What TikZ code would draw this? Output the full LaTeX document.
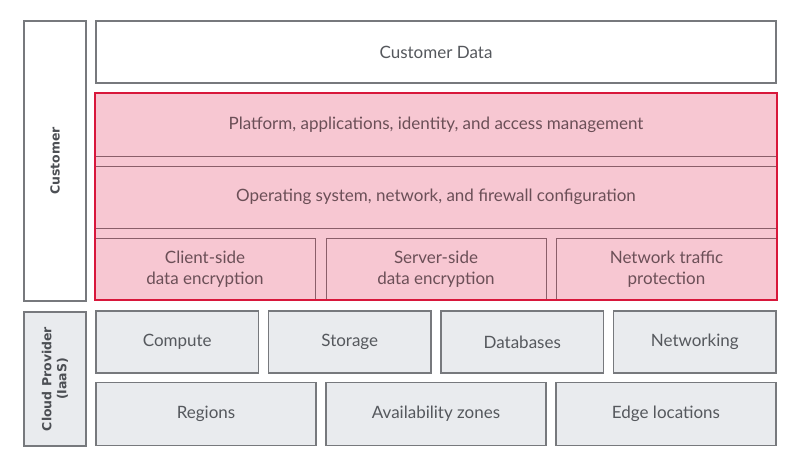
\documentclass[tikz,border=0pt]{standalone}
\usepackage{fontspec}
\setmainfont{Lato}
\newfontfamily\sidefont{DejaVu Sans}
\usepackage{xcolor}
\definecolor{cloudGray}{HTML}{77797D}
\definecolor{cloudFill}{HTML}{E9EBEE}
\definecolor{custRed}{HTML}{D8173B}
\definecolor{custPink}{HTML}{F7C7D2}
\definecolor{custLine}{HTML}{8A5E69}
\definecolor{textGray}{HTML}{55585D}
\definecolor{textRose}{HTML}{6B4F57}
\usepackage{tikz}
\usetikzlibrary{positioning, backgrounds}

\tikzset{
    layerbox/.style={rectangle, draw=cloudGray, line width=1.4pt, inner sep=0pt, align=center,
        text=textGray, font=\fontsize{17}{21}\selectfont},
    custbox/.style={layerbox, fill=white},
    iaasbox/.style={layerbox, fill=cloudFill},
    rowbox/.style={rectangle, draw=custLine, line width=1pt, inner sep=0pt, align=center,
        text=textRose, font=\fontsize{17}{21}\selectfont},
    sidelabel/.style={rotate=90, align=center, text=textGray!90!black, font=\sidefont\bfseries\fontsize{12.5}{15}\selectfont}
}

\begin{document}
\begin{tikzpicture}[x=1pt, y=-1pt]
            \useasboundingbox[fill=white] (0,0) rectangle (800,467);

            % Customer side
            \node[custbox, minimum width=62pt, minimum height=280pt] (customer) at (55,161) {};
            \node[sidelabel] (customerlabel) at (customer.center) {Customer};
            \node[custbox, minimum width=680pt, minimum height=62pt] (data) at (436,52) {Customer Data};

            % shared responsibility zone
            \node[rectangle, fill=custPink, minimum width=682pt, minimum height=207pt, inner sep=0pt] (zone) at (436,196.5) {};
            \node[rowbox, minimum width=682pt, minimum height=63pt] (platform) at (436,124.5)
                {Platform, applications, identity, and access management};
            \node[rowbox, minimum width=682pt, minimum height=62pt] (os) at (436,197)
                {Operating system, network, and firewall configuration};
            \foreach \name/\x/\w/\txt in {client/205/220/{Client-side\\data encryption},
                                          server/436/220/{Server-side\\data encryption},
                                          traffic/666.5/221/{Network traffic\\protection}}
                \node[rowbox, minimum width=\w pt, minimum height=62pt] (\name) at (\x,269) {\txt};
            \draw[custRed, line width=1.8pt] (zone.north west) rectangle (zone.south east);

            % Cloud provider side
            \node[iaasbox, minimum width=62pt, minimum height=134pt] (provider) at (55,379) {};
            \node[sidelabel] (providerlabel) at (provider.center) {Cloud Provider\\(IaaS)};
            \foreach \name/\x/\txt in {compute/177.25/Compute, storage/349.75/Storage,
                                       databases/522.25/Databases, networking/694.75/Networking}
                \node[iaasbox, minimum width=162.5pt, minimum height=62pt] (\name) at (\x,342) {\txt};
            \foreach \name/\x/\txt in {regions/206/Regions, zones/436/Availability zones,
                                       edges/666/Edge locations}
                \node[iaasbox, minimum width=220pt, minimum height=63pt] (\name) at (\x,414) {\txt};
        \end{tikzpicture}
\end{document}
